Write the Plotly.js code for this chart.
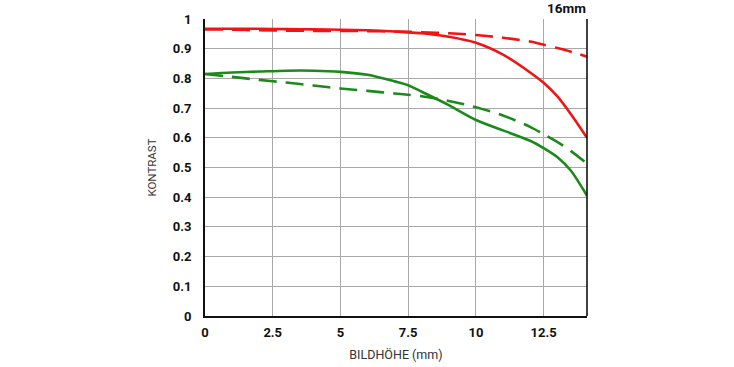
<!DOCTYPE html>
<html>
<head>
<meta charset="utf-8">
<script src="https://cdn.plot.ly/plotly-3.0.1.min.js"></script>
<style>html,body{margin:0;padding:0;background:#fff;}#chart{width:734px;height:367px;}</style>
</head>
<body>
<div id="chart"></div>
<script>
const bildhoehe = [0, 1, 2, 3, 4, 5, 6, 7, 7.5, 8, 9, 10, 11, 12, 12.5, 13, 13.5, 14.1];
const redSolid = [0.967, 0.967, 0.967, 0.966, 0.965, 0.964, 0.962, 0.958, 0.955, 0.952, 0.94, 0.92, 0.88, 0.82, 0.785, 0.74, 0.68, 0.60];
const redDashed = [0.965, 0.964, 0.962, 0.961, 0.96, 0.96, 0.959, 0.958, 0.957, 0.955, 0.952, 0.946, 0.937, 0.924, 0.913, 0.902, 0.89, 0.873];
const greenSolid = [0.815, 0.82, 0.823, 0.826, 0.826, 0.822, 0.812, 0.79, 0.777, 0.755, 0.71, 0.66, 0.625, 0.59, 0.565, 0.535, 0.49, 0.405];
const greenDashed = [0.815, 0.805, 0.795, 0.786, 0.776, 0.766, 0.758, 0.749, 0.745, 0.74, 0.724, 0.703, 0.675, 0.637, 0.612, 0.586, 0.556, 0.513];
const xTicks = [0, 2.5, 5, 7.5, 10, 12.5];
const xTickText = ['0', '2.5', '5', '7.5', '10', '12.5'];
const yTicks = [0, 0.1, 0.2, 0.3, 0.4, 0.5, 0.6, 0.7, 0.8, 0.9, 1];
const yTickText = ['0', '0.1', '0.2', '0.3', '0.4', '0.5', '0.6', '0.7', '0.8', '0.9', '1'];

const RED = '#f01414';
const GREEN = '#1b8a1b';
function tr(y, color, dash) {
  return {x: bildhoehe, y: y, type: 'scatter', mode: 'lines',
    line: {color: color, width: 2.6, shape: 'spline', smoothing: 0.8, dash: dash},
    hoverinfo: 'skip', showlegend: false, cliponaxis: true};
}
const data = [
  tr(greenDashed, GREEN, '18px,9px'),
  tr(greenSolid, GREEN, 'solid'),
  tr(redDashed, RED, '18px,9px'),
  tr(redSolid, RED, 'solid')
];
const font = 'Roboto, "Liberation Sans", Arial, sans-serif';
const layout = {
  width: 734, height: 367,
  margin: {l: 205, r: 147, t: 19, b: 51},
  paper_bgcolor: '#fff', plot_bgcolor: '#fff',
  showlegend: false,
  xaxis: {
    range: [0, 14.1], tickvals: xTicks, ticktext: xTickText,
    showgrid: true, gridcolor: '#a8a8a8', gridwidth: 1,
    zeroline: false, showline: true, linecolor: '#111', linewidth: 2,
    ticks: 'outside', ticklen: 3, tickcolor: 'rgba(0,0,0,0)',
    tickfont: {family: font, size: 13, color: '#111', weight: 'bold'},
    title: {text: 'BILDHÖHE (mm)', font: {family: font, size: 12.5, color: '#333'}, standoff: 12},
    fixedrange: true
  },
  yaxis: {
    range: [0, 1], tickvals: yTicks, ticktext: yTickText,
    showgrid: true, gridcolor: '#a8a8a8', gridwidth: 1,
    zeroline: false, showline: true, linecolor: '#111', linewidth: 2,
    ticks: 'outside', ticklen: 9, tickcolor: 'rgba(0,0,0,0)',
    tickfont: {family: font, size: 13, color: '#111', weight: 'bold'},
    title: {text: 'KONTRAST', font: {family: font, size: 11.5, color: '#333'}, standoff: 14},
    fixedrange: true
  },
  shapes: [
    {type: 'line', xref: 'paper', yref: 'paper', x0: 1, x1: 1, y0: 0, y1: 1, line: {color: '#111', width: 1.6}}
  ],
  annotations: [
    {text: '16mm', xref: 'paper', yref: 'paper', x: 1.0, y: 1.0, xanchor: 'right', yanchor: 'bottom', yshift: 1, xshift: 1,
     showarrow: false, font: {family: font, size: 13.5, color: '#111', weight: 'bold'}}
  ]
};
Plotly.newPlot('chart', data, layout, {staticPlot: true, displayModeBar: false});
</script>
</body>
</html>
